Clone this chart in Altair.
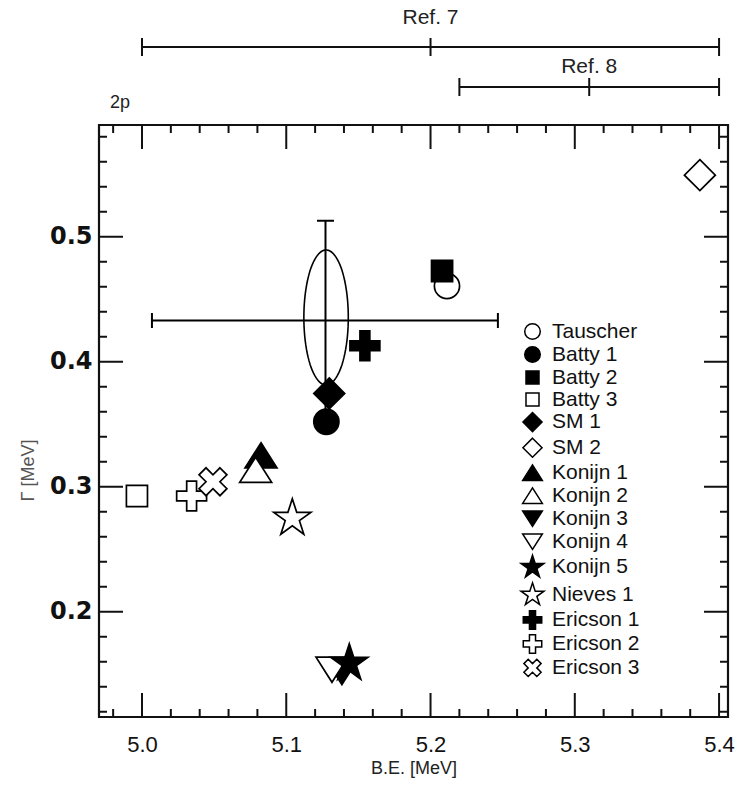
import math
import altair as alt
import pandas as pd

# ---- data -------------------------------------------------------------
names = ["Tauscher", "Batty 1", "Batty 2", "Batty 3", "SM 1", "SM 2",
         "Konijn 1", "Konijn 2", "Konijn 3", "Konijn 4", "Konijn 5",
         "Nieves 1", "Ericson 1", "Ericson 2", "Ericson 3"]
be = [5.2114, 5.1278, 5.2080, 4.9965, 5.1298, 5.3867,
      5.0825, 5.0788, 5.1386, 5.1317, 5.1437,
      5.1042, 5.1545, 5.0344, 5.0492]
gamma = [0.4606, 0.3520, 0.4726, 0.2926, 0.3747, 0.5493,
         0.3251, 0.3136, 0.1518, 0.1536, 0.1587,
         0.2747, 0.4128, 0.2926, 0.3040]
filled = [False, True, True, False, True, False,
          True, False, True, False, True,
          False, True, False, False]

# measured value with its error bars and error ellipse
meas_be, meas_be_lo, meas_be_hi = 5.1272, 5.0069, 5.2467
meas_g, meas_g_lo, meas_g_hi = 0.4330, 0.3532, 0.5128
ell_be, ell_g, ell_rbe, ell_rg = 5.1276, 0.4354, 0.0154, 0.0540

# reference ranges drawn above the frame
ref_labels = ["Ref. 7", "Ref. 8"]
ref_lo = [5.00, 5.22]
ref_mid = [5.20, 5.31]
ref_hi = [5.40, 5.40]

x_major = [5.0, 5.1, 5.2, 5.3, 5.4]
y_major = [0.2, 0.3, 0.4, 0.5]
x_minor = [round(4.98 + 0.02 * i, 2) for i in range(22)]
x_minor = [v for v in x_minor if abs(v * 10 - round(v * 10)) > 1e-6]
y_minor = [round(0.12 + 0.02 * i, 2) for i in range(24)]
y_minor = [v for v in y_minor if abs(v * 10 - round(v * 10)) > 1e-6]

# ---- layout -----------------------------------------------------------
W, H = 629, 592
FONT = "Liberation Sans"

xs = alt.Scale(domain=[4.9702, 5.4062], nice=False, zero=False)
ys = alt.Scale(domain=[0.1158, 0.5894], nice=False, zero=False)
xaxis = alt.Axis(values=x_major, format=".1f", ticks=False, domain=False,
                 grid=False, labelFontSize=22, labelPadding=17,
                 labelFont=FONT, title="B.E. [MeV]", titleFontSize=18,
                 titleFont=FONT, titleFontWeight="normal", titlePadding=4,
                 titleColor="#222", labelColor="#111")
yaxis = alt.Axis(values=y_major, format=".1f", ticks=False, domain=False,
                 grid=False, labelFontSize=24, labelFontWeight="bold",
                 labelPadding=7, labelFont="DejaVu Sans", title="Γ [MeV]",
                 titleFontSize=18, titleFont=FONT, titleFontWeight="normal",
                 titleColor="#555", titleX=-62, titleY=345, labelColor="#111")


def X(field):
    return alt.X(field, type="quantitative", scale=xs, axis=xaxis)


def Y(field):
    return alt.Y(field, type="quantitative", scale=ys, axis=yaxis)


# ---- marker shapes (unit box -1..1) ---------------------------------------
def star_path(R, r):
    pts = []
    for k in range(10):
        a = math.radians(-90 + 36 * k)
        rad = R if k % 2 == 0 else r
        pts.append(f"{rad * math.cos(a):.3f},{rad * math.sin(a):.3f}")
    return "M" + "L".join(pts) + "Z"


def plus_path(a, b):
    return (f"M{-b},{-a}H{b}V{-b}H{a}V{b}H{b}V{a}H{-b}V{b}H{-a}V{-b}H{-b}Z")


def x_path(a, b):
    c = math.cos(math.pi / 4)
    pts = [(-b, -a), (b, -a), (b, -b), (a, -b), (a, b), (b, b), (b, a),
           (-b, a), (-b, b), (-a, b), (-a, -b), (-b, -b)]
    rot = [((px - py) * c, (px + py) * c) for px, py in pts]
    return "M" + "L".join(f"{px:.3f},{py:.3f}" for px, py in rot) + "Z"


CIRCLE = "M0.74,0A0.74,0.74,0,1,1,-0.74,0A0.74,0.74,0,1,1,0.74,0Z"
SQUARE = "M-0.62,-0.62H0.62V0.62H-0.62Z"
DIAMOND = "M0,-0.91L0.91,0L0,0.91L-0.91,0Z"
TRI_UP = "M0,-0.74L0.94,0.74L-0.94,0.74Z"
TRI_DOWN = "M0,0.74L0.94,-0.74L-0.94,-0.74Z"
STAR = star_path(1.15, 0.44)
PLUS = plus_path(0.88, 0.29)
XCROSS = x_path(0.87, 0.29)

shape_range = [CIRCLE, CIRCLE, SQUARE, SQUARE, DIAMOND, DIAMOND,
               TRI_UP, TRI_UP, TRI_DOWN, TRI_DOWN, STAR,
               STAR, PLUS, PLUS, XCROSS]
fill_range = ["black" if f else "white" for f in filled]

pts = pd.DataFrame({"name": names, "be": be, "gamma": gamma})

legend = alt.Legend(orient="none", legendX=422, legendY=195, title=None,
                    labelFont=FONT, labelFontSize=21, labelColor="#111",
                    symbolSize=440, symbolStrokeWidth=1.5,
                    rowPadding=-1.4, labelOffset=8, padding=0,
                    symbolOpacity=1)

points = alt.Chart(pts).mark_point(
    size=1156, strokeWidth=1.7, opacity=1, fillOpacity=1
).encode(
    x=X("be"), y=Y("gamma"),
    shape=alt.Shape("name:N", scale=alt.Scale(domain=names, range=shape_range),
                    legend=legend),
    fill=alt.Fill("name:N", scale=alt.Scale(domain=names, range=fill_range),
                  legend=legend),
    stroke=alt.Stroke("name:N", scale=alt.Scale(domain=names,
                                                range=["black"] * len(names)),
                      legend=legend),
)

# ---- inward frame ticks -----------------------------------------------------
def ticks(values, length, side):
    df = pd.DataFrame({"v": values})
    base = alt.Chart(df).mark_rule(color="#111", strokeWidth=2)
    if side == "bottom":
        return base.encode(x=X("v"), y=alt.value(H), y2=alt.value(H - length))
    if side == "top":
        return base.encode(x=X("v"), y=alt.value(0), y2=alt.value(length))
    if side == "left":
        return base.encode(y=Y("v"), x=alt.value(0), x2=alt.value(length))
    return base.encode(y=Y("v"), x=alt.value(W), x2=alt.value(W - length))


tick_layers = []
for side in ["bottom", "top"]:
    tick_layers.append(ticks(x_major, 24, side))
    tick_layers.append(ticks(x_minor, 8, side))
for side in ["left", "right"]:
    tick_layers.append(ticks(y_major, 24, side))
    tick_layers.append(ticks(y_minor, 8, side))

# ---- error ellipse and error bars -------------------------------------------
ellipse = alt.Chart(alt.sequence(0, 364, 4, as_="deg")).transform_calculate(
    ex=f"{ell_be} + {ell_rbe} * cos(datum.deg * PI / 180)",
    ey=f"{ell_g} + {ell_rg} * sin(datum.deg * PI / 180)",
).mark_line(color="black", strokeWidth=1.6).encode(
    x=X("ex"), y=Y("ey"), order="deg:Q"
)

meas = pd.DataFrame({"be": [meas_be], "g": [meas_g],
                     "be_lo": [meas_be_lo], "be_hi": [meas_be_hi],
                     "g_lo": [meas_g_lo], "g_hi": [meas_g_hi]})
hbar = alt.Chart(meas).mark_rule(color="black", strokeWidth=2).encode(
    x=X("be_lo"), x2="be_hi", y=Y("g"))
vbar = alt.Chart(meas).mark_rule(color="black", strokeWidth=2).encode(
    x=X("be"), y=Y("g_lo"), y2="g_hi")
hcap_lo = alt.Chart(meas).mark_tick(orient="vertical", size=15, thickness=2,
                                    color="black", opacity=1).encode(
    x=X("be_lo"), y=Y("g"))
hcap_hi = alt.Chart(meas).mark_tick(orient="vertical", size=15, thickness=2,
                                    color="black", opacity=1).encode(
    x=X("be_hi"), y=Y("g"))
vcap_lo = alt.Chart(meas).mark_tick(orient="horizontal", size=17, thickness=2,
                                    color="black", opacity=1).encode(
    x=X("be"), y=Y("g_lo"))
vcap_hi = alt.Chart(meas).mark_tick(orient="horizontal", size=17, thickness=2,
                                    color="black", opacity=1).encode(
    x=X("be"), y=Y("g_hi"))

# ---- reference ranges above the frame ---------------------------------------
ref_rows = [(-78, -107), (-38, -58)]
ref_layers = []
for i, (bar_y, text_y) in enumerate(ref_rows):
    row = pd.DataFrame({"lo": [ref_lo[i]], "mid": [ref_mid[i]],
                        "hi": [ref_hi[i]], "label": [ref_labels[i]]})
    ref_layers.append(alt.Chart(row).mark_rule(color="#111", strokeWidth=2).encode(
        x=X("lo"), x2="hi", y=alt.value(bar_y)))
    for f in ["lo", "mid", "hi"]:
        ref_layers.append(alt.Chart(row).mark_rule(color="#111", strokeWidth=2).encode(
            x=X(f), y=alt.value(bar_y - 9), y2=alt.value(bar_y + 9)))
    ref_layers.append(alt.Chart(row).mark_text(
        font=FONT, fontSize=21, color="#222", baseline="middle").encode(
        x=X("mid"), y=alt.value(text_y), text="label:N"))

state = alt.Chart(pd.DataFrame({"t": ["2p"]})).mark_text(
    font=FONT, fontSize=18, color="#222", align="left", baseline="middle"
).encode(x=alt.value(11), y=alt.value(-22), text="t:N")

chart = alt.layer(
    *tick_layers, ellipse, hbar, vbar, hcap_lo, hcap_hi, vcap_lo, vcap_hi,
    *ref_layers, state, points
).properties(
    width=W, height=H,
    background="white",
    autosize=alt.AutoSizeParams(type="none"),
    padding={"left": 99, "top": 125, "right": 11, "bottom": 70},
).configure_view(
    stroke="#111", strokeWidth=2.2
)

chart.save("out.html", embed_options={"renderer": "svg", "actions": False})
